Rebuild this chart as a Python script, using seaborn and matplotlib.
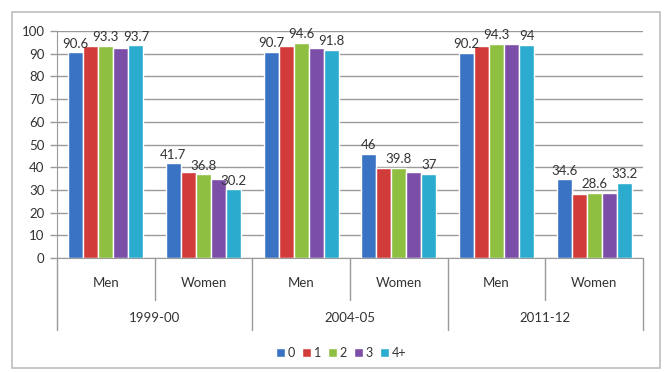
import matplotlib
matplotlib.use("Agg")
import matplotlib.pyplot as plt
from matplotlib.patches import Rectangle
import pandas as pd
import seaborn as sns

# Survey rounds, sex groups and number-of-children series
years = ["1999-00", "2004-05", "2011-12"]
sexes = ["Men", "Women"]
series = ["0", "1", "2", "3", "4+"]

# Participation rate (%) per series, ordered year by year: Men, Women
vals_0 = [90.6, 41.7, 90.7, 46.0, 90.2, 34.6]
vals_1 = [93.3, 37.8, 93.2, 39.6, 93.5, 28.4]
vals_2 = [93.3, 36.8, 94.6, 39.8, 94.3, 28.6]
vals_3 = [92.4, 34.6, 92.3, 37.9, 94.4, 28.5]
vals_4 = [93.7, 30.2, 91.8, 37.0, 94.0, 33.2]

# Series whose values are printed above the bars
labelled = ["0", "2", "4+"]

colors = ["#3B73C4", "#D13C3A", "#8FBF40", "#7B4FA7", "#2BACCF"]

cats = [f"{y}|{s}" for y in years for s in sexes]
rows = []
for name, vals in zip(series, [vals_0, vals_1, vals_2, vals_3, vals_4]):
    for c, v in zip(cats, vals):
        rows.append({"cat": c, "series": name, "value": v})
df = pd.DataFrame(rows)

sns.set_style("white")
plt.rcParams["font.family"] = ["Lato", "DejaVu Sans"]

W, H = 664, 373
fig = plt.figure(figsize=(W / 100, H / 100), dpi=100)
ax = fig.add_axes([57 / W, 1 - 258 / H, (643 - 57) / W, (258 - 31) / H])

sns.barplot(data=df, x="cat", y="value", hue="series", order=cats,
            hue_order=series, palette=colors, width=0.77, saturation=1,
            ax=ax, legend=True)

ax.set_ylim(0, 100)
ax.set_xlim(-0.5, len(cats) - 0.5)
ax.set_yticks(range(0, 101, 10))
ax.yaxis.grid(True, color="#9a9a9a", linewidth=1)
ax.set_axisbelow(True)
ax.tick_params(axis="y", labelsize=9.5, colors="#333333", length=5,
               width=1, color="#9a9a9a", pad=4, left=True)
for lab in ax.get_yticklabels():
    lab.set_color("#333333")
ax.set_xlabel("")
ax.set_ylabel("")
ax.set_xticks([])
for side in ["top", "right"]:
    ax.spines[side].set_visible(False)
ax.spines["left"].set_color("#9a9a9a")
ax.spines["bottom"].set_color("#9a9a9a")

# Value labels on selected series
for name, cont in zip(series, ax.containers):
    if name in labelled:
        ax.bar_label(cont, labels=[f"{b.get_height():g}" for b in cont],
                     padding=2, fontsize=9.5, color="#333333")

# Two-level category axis
tr = ax.get_xaxis_transform()
y_axis_px = 258 - 31
def ay(px):
    # convert pixel offset below the x axis into axes fraction
    return -px / y_axis_px

for i, c in enumerate(cats):
    ax.text(i, ay(283 - 258), c.split("|")[1], transform=tr, ha="center",
            va="center", fontsize=9.5, color="#333333")
for j, y in enumerate(years):
    ax.text(2 * j + 0.5, ay(318 - 258), y, transform=tr, ha="center",
            va="center", fontsize=9.5, color="#333333")

for k in range(len(cats) + 1):
    x = k - 0.5
    depth = 330 - 258 if k % 2 == 0 else 300 - 258
    ax.plot([x, x], [0, ay(depth)], transform=tr, color="#9a9a9a",
            linewidth=1, clip_on=False)

# Legend along the bottom
handles, labels = ax.get_legend_handles_labels()
ax.legend_.remove()
fig.legend(handles, labels, loc="center", bbox_to_anchor=(341 / W, 1 - 353 / H),
           ncol=5, frameon=False, fontsize=9, handlelength=0.7,
           handleheight=0.7, handletextpad=0.25, columnspacing=0.55,
           labelcolor="#333333")

# Chart frame
fig.patches.append(Rectangle((12 / W, 1 - 368 / H), (660 - 12) / W, (368 - 12) / H,
                             transform=fig.transFigure, fill=False,
                             edgecolor="#bdbdbd", linewidth=1.2))

fig.savefig("out.png", dpi=100)
